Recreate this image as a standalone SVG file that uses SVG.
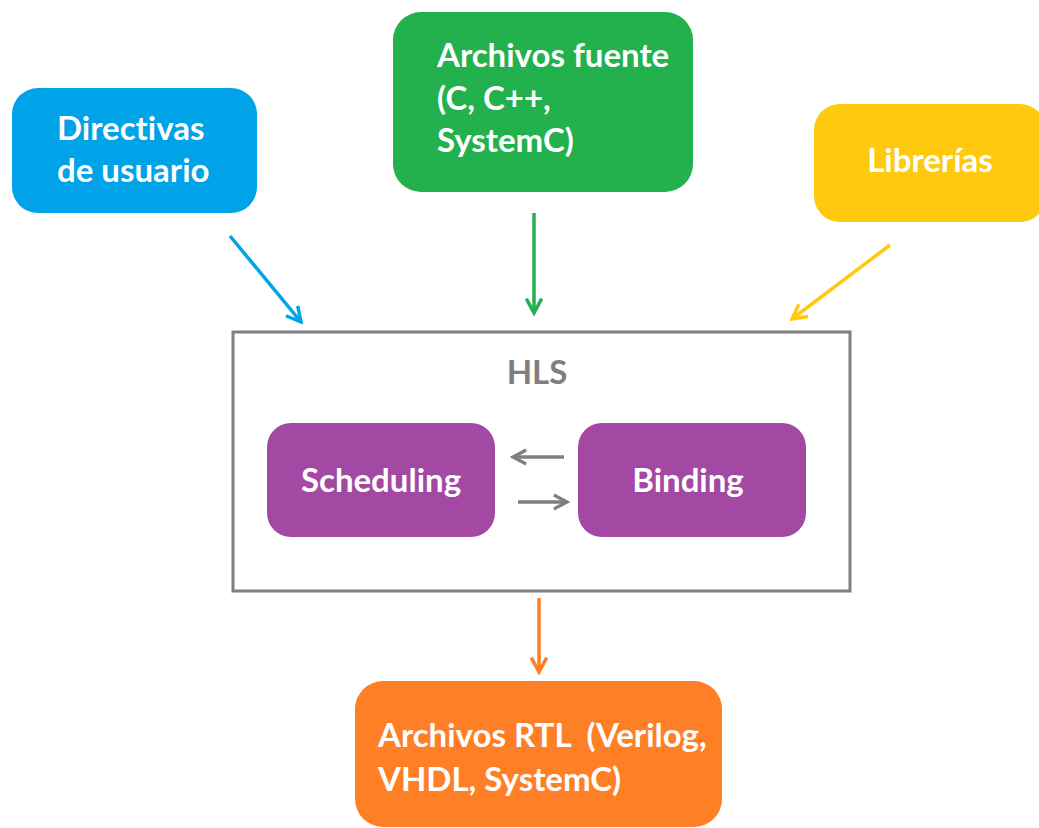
<svg xmlns="http://www.w3.org/2000/svg" width="1039" height="828" viewBox="0 0 1039 828">
<style>
.lbl{font-family:Lato,"Open Sans","Liberation Sans",sans-serif;font-weight:700;font-size:33px;fill:#ffffff;font-variant-ligatures:none;font-feature-settings:"liga" 0}
.hls{font-family:Lato,"Open Sans","Liberation Sans",sans-serif;font-weight:700;font-size:33px;fill:#7f7f7f}
.conn{fill:none;stroke-width:3.5}
</style>
<defs>
<marker id="ab" viewBox="0 0 10 10" refX="8.5" refY="5" markerWidth="5.5" markerHeight="5.5" orient="auto" markerUnits="strokeWidth"><path d="M1,1 L8.5,5 L1,9" fill="none" stroke="#00a2e8" stroke-width="1.8"/></marker>
<marker id="ag" viewBox="0 0 10 10" refX="8.5" refY="5" markerWidth="5.5" markerHeight="5.5" orient="auto" markerUnits="strokeWidth"><path d="M1,1 L8.5,5 L1,9" fill="none" stroke="#22b14c" stroke-width="1.8"/></marker>
<marker id="ay" viewBox="0 0 10 10" refX="8.5" refY="5" markerWidth="5.5" markerHeight="5.5" orient="auto" markerUnits="strokeWidth"><path d="M1,1 L8.5,5 L1,9" fill="none" stroke="#ffc90e" stroke-width="1.8"/></marker>
<marker id="ao" viewBox="0 0 10 10" refX="8.5" refY="5" markerWidth="5.5" markerHeight="5.5" orient="auto" markerUnits="strokeWidth"><path d="M1,1 L8.5,5 L1,9" fill="none" stroke="#ff7f27" stroke-width="1.8"/></marker>
<marker id="ak" viewBox="0 0 10 10" refX="8.5" refY="5" markerWidth="5" markerHeight="5" orient="auto" markerUnits="strokeWidth"><path d="M1,1 L8.5,5 L1,9" fill="none" stroke="#7f7f7f" stroke-width="1.8"/></marker>
</defs>
<rect width="1039" height="828" fill="#ffffff"/>
<g id="hls">
<rect x="233" y="332" width="617" height="259" fill="#ffffff" stroke="#7f7f7f" stroke-width="3"/>
<text class="hls" x="537" y="384" text-anchor="middle">HLS</text>
</g>
<g id="directivas">
<rect x="12" y="88" width="245" height="125" rx="26" fill="#00a2e8"/>
<text class="lbl" x="57" y="140">Directivas</text>
<text class="lbl" x="57" y="182">de usuario</text>
</g>
<g id="fuente">
<rect x="393" y="12" width="300" height="180" rx="28" fill="#22b14c"/>
<text class="lbl" x="437" y="67">Archivos fuente</text>
<text class="lbl" x="437" y="110">(C, C++,</text>
<text class="lbl" x="437" y="152">SystemC)</text>
</g>
<g id="librerias">
<rect x="814" y="104" width="232" height="118" rx="26" fill="#ffc90e"/>
<text class="lbl" x="930" y="172" text-anchor="middle">Librerías</text>
</g>
<g id="scheduling">
<rect x="267" y="423" width="228" height="114" rx="24" fill="#a349a4"/>
<text class="lbl" x="381" y="492" text-anchor="middle">Scheduling</text>
</g>
<g id="binding">
<rect x="578" y="423" width="228" height="114" rx="24" fill="#a349a4"/>
<text class="lbl" x="688" y="492" text-anchor="middle">Binding</text>
</g>
<g id="rtl">
<rect x="355" y="681" width="367" height="146" rx="28" fill="#ff7f27"/>
<text class="lbl" x="378" y="747" xml:space="preserve">Archivos RTL  (Verilog,</text>
<text class="lbl" x="378" y="791">VHDL, SystemC)</text>
</g>
<g id="connectors">
<line class="conn" x1="230" y1="236" x2="301" y2="322" stroke="#00a2e8" marker-end="url(#ab)"/>
<line class="conn" x1="534" y1="213" x2="534" y2="313" stroke="#22b14c" marker-end="url(#ag)"/>
<line class="conn" x1="890" y1="245" x2="792" y2="319" stroke="#ffc90e" marker-end="url(#ay)"/>
<line class="conn" x1="564" y1="457" x2="513" y2="457" stroke="#7f7f7f" stroke-width="4" marker-end="url(#ak)"/>
<line class="conn" x1="518" y1="502" x2="567" y2="502" stroke="#7f7f7f" stroke-width="4" marker-end="url(#ak)"/>
<line class="conn" x1="539" y1="598" x2="539" y2="672" stroke="#ff7f27" marker-end="url(#ao)"/>
</g>
</svg>
